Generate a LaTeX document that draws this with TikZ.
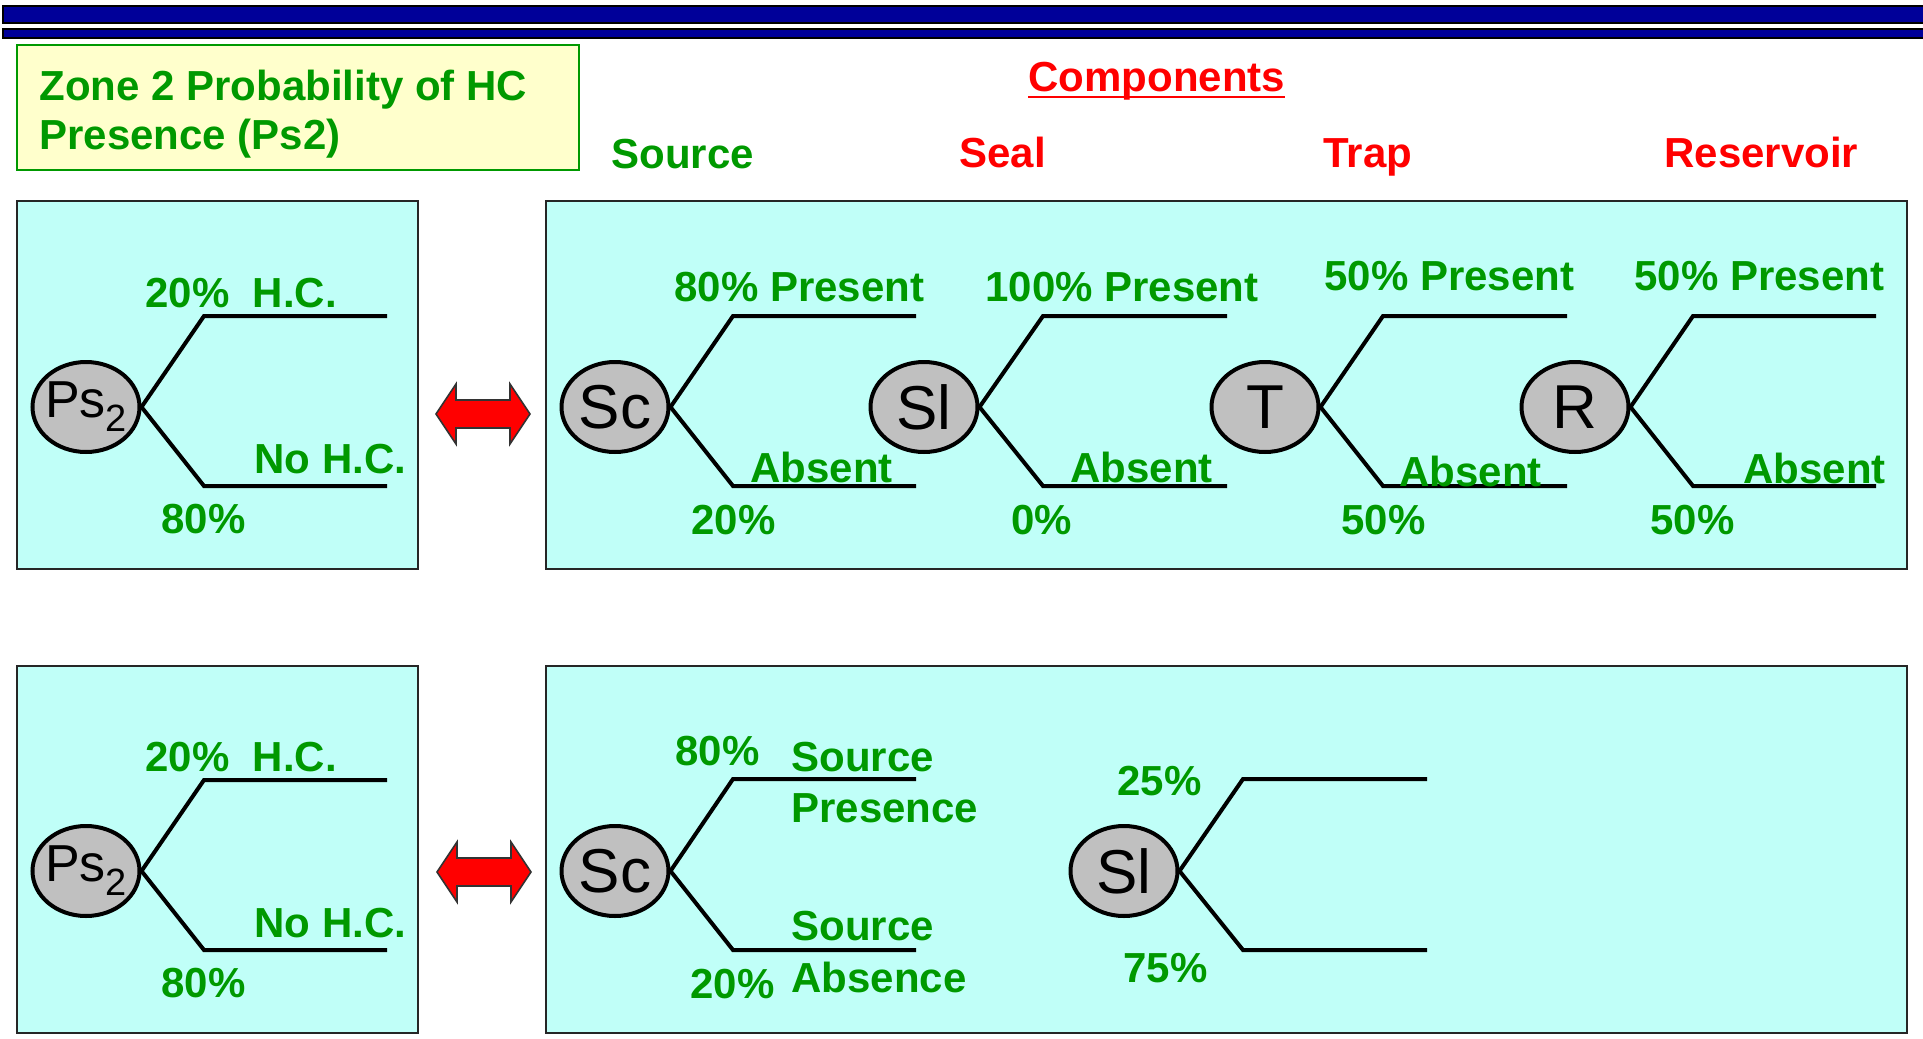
\documentclass[tikz,border=0pt]{standalone}
\usepackage{fontspec}
\setmainfont{Liberation Sans}
\usetikzlibrary{shapes.geometric}
\definecolor{barblue}{RGB}{0,0,153}
\definecolor{lbl}{RGB}{0,153,0}
\definecolor{panelfill}{RGB}{192,255,248}
\definecolor{notefill}{RGB}{255,255,204}
\definecolor{knotfill}{RGB}{192,192,192}

% two branches leaving a chance node: corner x, end x, upper y, lower y
\newcommand\forktree[5]{%
  \coordinate (#1-uc) at (#2,#4);
  \coordinate (#1-ue) at (#3,#4);
  \coordinate (#1-dc) at (#2,#5);
  \coordinate (#1-de) at (#3,#5);
  \draw[branch] (#1.east) -- (#1-uc) -- (#1-ue);
  \draw[branch] (#1.east) -- (#1-dc) -- (#1-de);
}
% red two-headed arrow centred on a point
\newcommand\twoway[1]{%
  \draw[twowayarrow,shift={(#1)}] (-47,0) -- (-27,-30) -- (-27,-14) -- (27,-14)
    -- (27,-30) -- (47,0) -- (27,30) -- (27,14) -- (-27,14) -- (-27,30) -- cycle;
}

\begin{document}
\begin{tikzpicture}[x=0.5pt,y=-0.5pt,
  panelbox/.style={draw=black!85,line width=1pt,fill=panelfill},
  chance/.style={ellipse,draw=black,line width=2pt,fill=knotfill,
    minimum width=53.5pt,minimum height=45pt,inner sep=0pt,
    font=\fontsize{31}{31}\selectfont},
  branch/.style={line width=2pt,line join=miter},
  lab/.style={text=lbl,font=\fontsize{21}{21}\bfseries\selectfont,
    anchor=base west,inner sep=0pt},
  comp/.style={text=red,font=\fontsize{21}{21}\bfseries\selectfont,
    anchor=base west,inner sep=0pt},
  twowayarrow/.style={fill=red,draw=black!80,line width=0.8pt,line join=miter}
]
\useasboundingbox (0,0) rectangle (1923,1039);

% title bars
\draw[fill=barblue,draw=black,line width=1pt] (3,6) rectangle (1924,23);
\draw[fill=barblue,draw=black,line width=1pt] (3,29) rectangle (1924,38);

% zone caption
\draw[fill=notefill,draw=lbl,line width=1.2pt] (17,45) rectangle (579,170);
\node[lab] (zone1) at (39,100) {Zone 2 Probability of HC};
\node[lab] (zone2) at (39,149) {Presence (Ps2)};

% component headings
\node[comp] (components) at (1028,91) {Components};
\draw[red,line width=1pt] ([yshift=-3pt]components.base west) -- ([yshift=-3pt]components.base east);
\node[lab] (hsource) at (611,168) {Source};
\node[comp] (hseal) at (959,167) {Seal};
\node[comp] (htrap) at (1323,167) {Trap};
\node[comp] (hres) at (1664,167) {Reservoir};

% panels
\draw[panelbox] (17,201) rectangle (418,569);
\draw[panelbox] (546,201) rectangle (1907,569);
\draw[panelbox] (17,666) rectangle (418,1033);
\draw[panelbox] (546,666) rectangle (1907,1033);

% equivalence arrows
\twoway{483,414}
\twoway{484,872}

% ---- upper row ----
\node[chance] (ps1) at (86,407) {\makebox[30pt]{\fontsize{26}{26}\selectfont Ps\raisebox{-7pt}{\fontsize{19}{19}\selectfont 2}}};
\forktree{ps1}{204}{387}{316}{486}
\node[chance] (sc1) at (615,407) {Sc};
\forktree{sc1}{733}{916}{316}{486}
\node[chance] (sl1) at (924,407) {Sl};
\forktree{sl1}{1043}{1227}{316}{486}
\node[chance] (t1) at (1265,407) {T};
\forktree{t1}{1383}{1567}{316}{486}
\node[chance] (r1) at (1575,407) {R};
\forktree{r1}{1693}{1876}{316}{486}

\node[lab] (a1) at (145,307) {20\%~~H.C.};
\node[lab] (a2) at (254,473) {No H.C.};
\node[lab] (a3) at (161,533) {80\%};
\node[lab] (b1) at (674,301) {80\% Present};
\node[lab] (b2) at (750,482) {Absent};
\node[lab] (b3) at (691,534) {20\%};
\node[lab] (c1) at (985,301) {100\% Present};
\node[lab] (c2) at (1070,482) {Absent};
\node[lab] (c3) at (1011,534) {0\%};
\node[lab] (d1) at (1324,290) {50\% Present};
\node[lab] (d2) at (1399,486) {Absent};
\node[lab] (d3) at (1341,534) {50\%};
\node[lab] (e1) at (1634,290) {50\% Present};
\node[lab] (e2) at (1743,483) {Absent};
\node[lab] (e3) at (1650,534) {50\%};

% ---- lower row ----
\node[chance] (ps2) at (86,871) {\makebox[30pt]{\fontsize{26}{26}\selectfont Ps\raisebox{-7pt}{\fontsize{19}{19}\selectfont 2}}};
\forktree{ps2}{204}{387}{780}{950}
\node[chance] (sc2) at (615,871) {Sc};
\forktree{sc2}{733}{916}{779}{950}
\node[chance] (sl2) at (1124,871) {Sl};
\forktree{sl2}{1243}{1427}{779}{950}

\node[lab] (f1) at (145,771) {20\%~~H.C.};
\node[lab] (f2) at (254,937) {No H.C.};
\node[lab] (f3) at (161,997) {80\%};
\node[lab] (g1) at (675,765) {80\%};
\node[lab] (g2) at (791,771) {Source};
\node[lab] (g3) at (791,822) {Presence};
\node[lab] (g4) at (791,940) {Source};
\node[lab] (g5) at (791,992) {Absence};
\node[lab] (g6) at (690,998) {20\%};
\node[lab] (h1) at (1117,795) {25\%};
\node[lab] (h2) at (1123,982) {75\%};
\end{tikzpicture}
\end{document}
